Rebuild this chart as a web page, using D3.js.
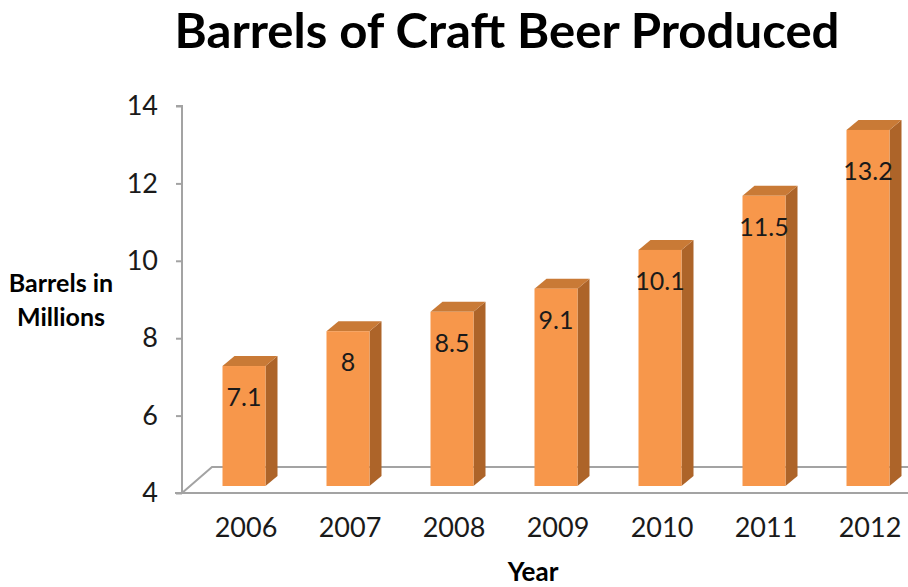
<!DOCTYPE html>
<html>
<head>
<meta charset="utf-8">
<script src="https://cdn.jsdelivr.net/npm/d3@7"></script>
<style>
  html, body { margin: 0; padding: 0; background: #ffffff; }
  svg { display: block; font-family: Lato, "Open Sans", sans-serif; }
</style>
</head>
<body>
<svg id="chart" width="908" height="587"></svg>
<script>
// Craft beer production, millions of barrels per year
const years = ["2006", "2007", "2008", "2009", "2010", "2011", "2012"];
const barrels = [7.1, 8, 8.5, 9.1, 10.1, 11.5, 13.2];
const yTicks = [4, 6, 8, 10, 12, 14];

const svg = d3.select("#chart");
const W = 908, H = 587;

// front plane of the 3D box
const axisX = 182;
const y = d3.scaleLinear().domain([4, 14]).range([493, 106]);
const x = d3.scalePoint().domain(years).range([236, 860]);

// floor depth and bar placement inside it
const depth = { dx: 30, dy: -26 };
const barShift = { dx: 8, dy: -7 };
const barW = 43;
const barDepth = { dx: 12, dy: -10 };

const colFront = "#f7974b", colSide = "#ad6429", colTop = "#c97a36";
const lineCol = "#a3a3a3";

// title
svg.append("text")
  .attr("x", 507).attr("y", 48)
  .attr("text-anchor", "middle")
  .attr("font-weight", 700)
  .attr("font-size", 48)
  .attr("textLength", 665)
  .attr("lengthAdjust", "spacingAndGlyphs")
  .attr("fill", "#000")
  .text("Barrels of Craft Beer Produced");

// floor
const yFloor = y(4);
svg.append("path")
  .attr("d", `M${axisX},${yFloor} L${axisX + depth.dx},${yFloor + depth.dy} L${W + 10},${yFloor + depth.dy}`)
  .attr("fill", "none").attr("stroke", lineCol).attr("stroke-width", 2);
svg.append("line")
  .attr("x1", axisX - 7).attr("x2", W + 10)
  .attr("y1", yFloor).attr("y2", yFloor)
  .attr("stroke", lineCol).attr("stroke-width", 2);

// value axis
const yAxis = d3.axisLeft(y).tickValues(yTicks).tickSize(6).tickPadding(18).tickFormat(d3.format("d"));
const ga = svg.append("g").attr("transform", `translate(${axisX},0)`).call(yAxis);
ga.select(".domain").attr("stroke", lineCol).attr("stroke-width", 2)
  .attr("d", `M-6,${y(14)}H0V${y(4)}`);
ga.selectAll(".tick line").attr("stroke", lineCol).attr("stroke-width", 2);
ga.selectAll(".tick text")
  .attr("font-size", 27).attr("fill", "#1a1a1a")
  .attr("font-family", "Lato, sans-serif");

// bars
const bars = svg.append("g");
years.forEach((yr, i) => {
  const v = barrels[i];
  const x0 = x(yr) + barShift.dx - barW / 2;
  const x1 = x0 + barW;
  const yb = y(4) + barShift.dy;
  const yt = y(v) + barShift.dy;
  const g = bars.append("g");
  g.append("path")
    .attr("d", `M${x1},${yt} L${x1 + barDepth.dx},${yt + barDepth.dy} L${x1 + barDepth.dx},${yb + barDepth.dy} L${x1},${yb} Z`)
    .attr("fill", colSide);
  g.append("path")
    .attr("d", `M${x0},${yt} L${x0 + barDepth.dx},${yt + barDepth.dy} L${x1 + barDepth.dx},${yt + barDepth.dy} L${x1},${yt} Z`)
    .attr("fill", colTop);
  g.append("rect")
    .attr("x", x0).attr("y", yt).attr("width", barW).attr("height", yb - yt)
    .attr("fill", colFront);
  // value label, kept inside the plot near the top
  const ly = Math.max(yt + 40, y(12.1));
  g.append("text")
    .attr("x", x0 + barW / 2).attr("y", ly)
    .attr("text-anchor", "middle")
    .attr("font-size", 25).attr("fill", "#1a1a1a")
    .text(v);
});

// category labels
svg.append("g").selectAll("text").data(years).join("text")
  .attr("x", d => x(d) + 10).attr("y", 537)
  .attr("text-anchor", "middle")
  .attr("font-size", 27).attr("fill", "#1a1a1a")
  .text(d => d);

// axis titles
svg.append("text").attr("x", 533).attr("y", 581)
  .attr("text-anchor", "middle").attr("font-weight", 700).attr("font-size", 26)
  .text("Year");
const yt = svg.append("text").attr("text-anchor", "middle").attr("font-weight", 700).attr("font-size", 25);
yt.append("tspan").attr("x", 61).attr("y", 292).text("Barrels in");
yt.append("tspan").attr("x", 61).attr("y", 326).text("Millions");
</script>
</body>
</html>
